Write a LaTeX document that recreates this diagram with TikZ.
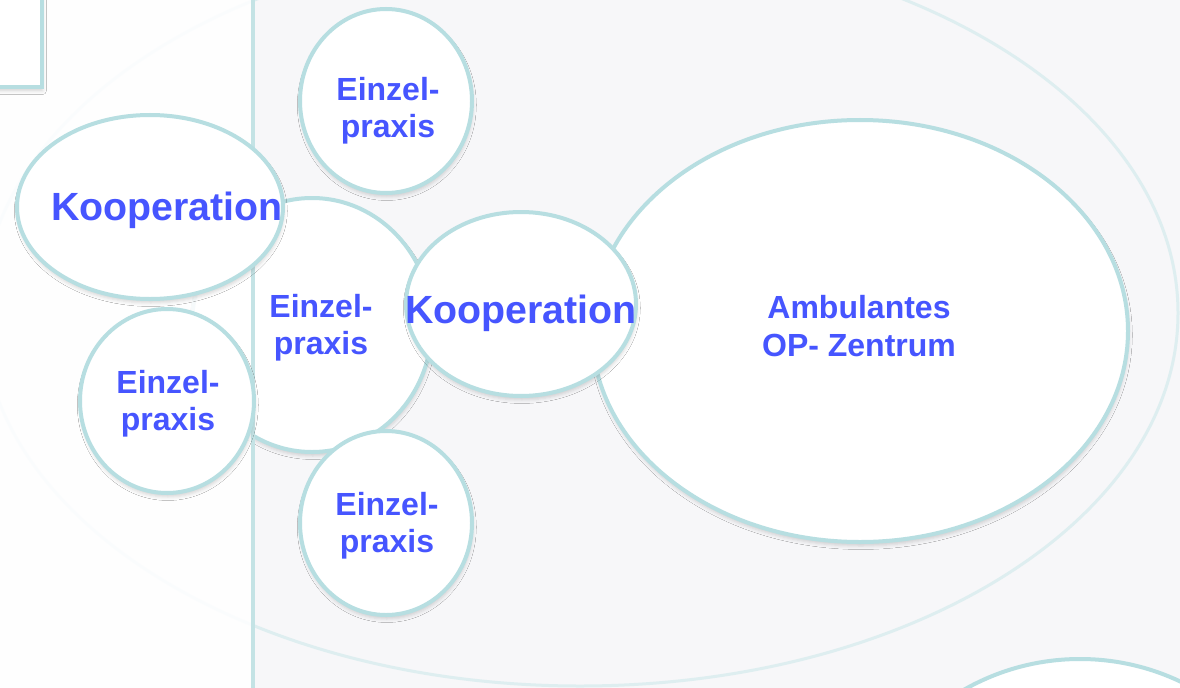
\documentclass[tikz,border=0pt]{standalone}
\usepackage{fontspec}
\setmainfont{Liberation Sans}
\usetikzlibrary{shapes.geometric,shadows.blur}
\definecolor{bg}{RGB}{247,247,249}
\definecolor{rim}{RGB}{183,222,225}
\definecolor{rimlight}{RGB}{196,227,229}
\definecolor{faint}{RGB}{222,238,240}
\definecolor{txt}{RGB}{70,85,255}
\tikzset{
  softshadow/.style={blur shadow={shadow xshift=0.6pt, shadow yshift=-3pt, shadow blur radius=2.6pt, shadow opacity=16}},
  bubble/.style={ellipse, draw=rim, line width=3pt, fill=white, inner sep=0pt, softshadow},
  smalltxt/.style={text=txt, font=\bfseries\fontsize{24}{28}\selectfont, align=center, inner sep=0pt},
  bigtxt/.style={text=txt, font=\bfseries\fontsize{29.5}{34}\selectfont, inner sep=0pt}
}
\begin{document}
\begin{tikzpicture}[x=0.75pt,y=-0.75pt]
\useasboundingbox (0,0) rectangle (1180,688);
\fill[bg] (0,0) rectangle (1180,688);
% large faint ellipse
\draw[faint, line width=2.25pt] (580,313) ellipse [x radius=598, y radius=373];
% bottom-right circle
\node[bubble, minimum width=351pt, minimum height=351pt] (br) at (1080,893) {};
% Ambulantes OP-Zentrum
\node[bubble, minimum width=402pt, minimum height=316.5pt] (c7) at (860,331) {};
% central Einzelpraxis
\node[bubble, minimum width=180pt, minimum height=190.5pt] (c3) at (312,325) {};
% left strip overlay with its border
\fill[white, opacity=0.88] (-5,-5) rectangle (253,693);
\draw[rimlight, line width=2.6pt] (253,-5) -- (253,693);
% top-left box
\draw[rim, line width=3pt, fill=white, softshadow] (-20,-20) rectangle (42,87);
% others
\node[bubble, minimum width=129pt, minimum height=138pt] (c1) at (386,101) {};
\node[bubble, minimum width=199.5pt, minimum height=138pt] (c2) at (150,207) {};
\node[bubble, minimum width=130.5pt, minimum height=138pt] (c4) at (167,401) {};
\node[bubble, minimum width=129pt, minimum height=138pt] (c5) at (386,523) {};
\node[bubble, minimum width=172.5pt, minimum height=138pt] (c6) at (521,304) {};
% texts
\node[smalltxt] (t1) at (388,111) {Einzel-\\praxis};
\node[smalltxt] (t3) at (321,328) {Einzel-\\praxis};
\node[smalltxt] (t4) at (168,404) {Einzel-\\praxis};
\node[smalltxt] (t5) at (387,526) {Einzel-\\praxis};
\node[bigtxt] (t2) at (167,210) {Kooperation};
\node[bigtxt] (t6) at (521,313) {Kooperation};
\node[smalltxt] (t7) at (859,326) {Ambulantes\\OP- Zentrum};
\end{tikzpicture}
\end{document}
